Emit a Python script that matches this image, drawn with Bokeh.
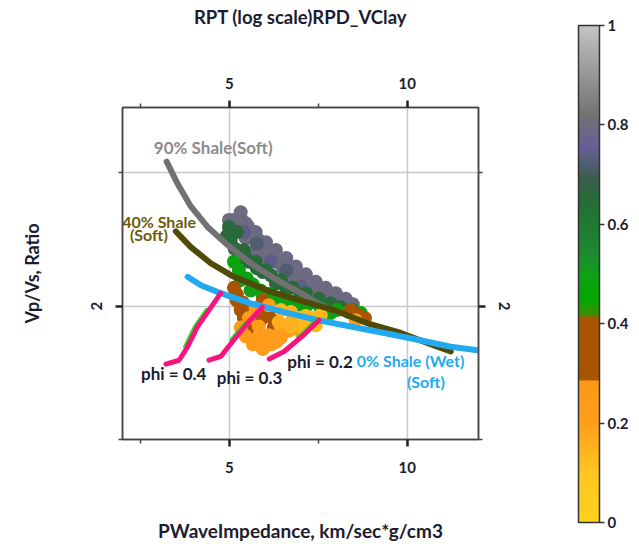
import math
from bokeh.plotting import figure
from bokeh.models import (Range1d, LinearAxis, LogAxis, FixedTicker, ColumnDataSource,
                          LinearColorMapper, ColorBar, CustomJSTickFormatter, Label)
from bokeh.core.properties import value
from bokeh.embed import file_html
from bokeh.resources import INLINE

FONT = "Lato"
DARK = "#1c1c30"

# ---------------- data ----------------
x_ticks = [5, 10]
x_minor = [2.5, 7.5]
y_ticks = [2]
y_minor = [1, 4]
y_grid = [2, 4]
cb_ticks = [0, 0.2, 0.4, 0.6, 0.8, 1]

shale90_x = [3.24, 3.54, 3.92, 4.39, 4.95, 5.60, 6.26, 7.01, 7.57, 8.13]
shale90_y = [4.24, 3.79, 3.36, 3.02, 2.75, 2.50, 2.31, 2.14, 2.01, 1.93]

shale40_x = [3.50, 3.92, 4.48, 5.13, 6.07, 7.01, 7.94, 8.88, 9.82, 10.75, 11.22]
shale40_y = [2.95, 2.72, 2.50, 2.33, 2.17, 2.06, 1.96, 1.83, 1.74, 1.63, 1.58]

shale0_x = [3.83, 4.20, 4.76, 5.60, 6.54, 7.48, 8.41, 9.35, 10.29, 11.22, 11.97]
shale0_y = [2.33, 2.23, 2.14, 2.03, 1.94, 1.86, 1.80, 1.74, 1.68, 1.62, 1.59]

phi40_x = [3.22, 3.59, 3.83, 4.11, 4.43, 4.76]
phi40_y = [1.48, 1.51, 1.62, 1.80, 1.96, 2.14]
phi30_x = [4.43, 4.76, 5.13, 5.51, 5.93]
phi30_y = [1.51, 1.54, 1.68, 1.83, 1.99]
phi20_x = [6.12, 6.54, 7.01, 7.52]
phi20_y = [1.52, 1.58, 1.70, 1.86]

# thin green edges visible beside the phi lines
g40_x = [3.76, 4.04, 4.36]
g40_y = [1.62, 1.80, 1.96]
g30_x = [5.06, 5.44]
g30_y = [1.68, 1.83]
g20_x = [6.94, 7.45]
g20_y = [1.70, 1.86]

# sample cloud: impedance, Vp/Vs and clay volume of each sample
cloud_x = [5.13, 5.32, 5.27, 5.52, 5.66, 5.46, 5.83, 5.94, 5.74, 6.11, 6.22, 6.03, 6.39, 6.50,
           6.73, 6.62, 6.90, 7.06, 7.29, 7.51, 7.74, 7.96, 8.19, 5.32, 4.99, 5.60, 5.94, 6.31, 6.78,
           5.46, 5.74, 6.03, 6.31, 6.60, 6.87, 7.15, 7.43, 7.71, 7.99, 8.27, 8.47,
           5.41, 5.77, 6.17, 6.60, 7.01,
           4.99, 5.04, 5.15, 5.27, 5.41, 5.55, 5.77, 5.94, 6.17, 6.45, 6.78, 7.15, 7.51, 7.85, 8.13, 8.47,
           5.21, 4.93, 5.18, 5.46, 5.74, 6.03, 6.31, 6.60, 7.01, 7.43, 7.79,
           5.13, 5.27, 5.49, 5.66, 5.88, 6.11, 6.33, 6.62, 6.90, 7.18, 7.57, 8.02, 8.36, 8.69,
           5.32, 5.60, 5.94, 6.45, 7.01, 7.85,
           5.13, 5.21, 5.32, 5.41, 5.60, 5.88, 6.17, 6.25, 5.69, 5.52, 5.94, 8.41, 8.61, 8.81,
           6.03, 5.74, 5.21, 5.38,
           5.32, 5.46, 5.66, 5.94, 6.17, 6.45, 6.67, 7.01, 5.83, 8.55, 5.74, 6.11,
           5.55, 5.83, 6.11, 6.45, 5.94, 6.31,
           6.45, 6.73, 6.95, 7.23, 7.43, 6.73, 7.01, 6.39, 7.57, 6.73, 7.15, 7.36]
cloud_y = [3.13, 3.16, 3.02, 3.03, 2.93, 2.85, 2.82, 2.72, 2.68, 2.64, 2.57, 2.52, 2.51, 2.44,
           2.37, 2.34, 2.31, 2.24, 2.21, 2.15, 2.12, 2.07, 2.03, 3.26, 3.13, 2.85, 2.66, 2.52, 2.34,
           3.08, 2.94, 2.79, 2.68, 2.57, 2.46, 2.36, 2.27, 2.20, 2.14, 2.08, 2.02,
           2.94, 2.77, 2.52, 2.41, 2.21,
           3.02, 2.82, 2.70, 2.59, 2.68, 2.52, 2.44, 2.39, 2.35, 2.29, 2.20, 2.14, 2.08, 2.03, 1.99, 1.96,
           2.94, 2.88, 2.52, 2.57, 2.52, 2.41, 2.25, 2.19, 2.12, 2.04, 1.98,
           2.52, 2.41, 2.31, 2.24, 2.17, 2.13, 2.09, 2.06, 2.03, 2.01, 1.98, 1.96, 1.94, 1.93,
           2.29, 2.17, 2.11, 2.04, 1.98, 1.93,
           2.20, 2.13, 1.96, 1.88, 1.85, 1.86, 1.89, 1.79, 1.79, 1.96, 2.06, 1.96, 1.91, 1.88,
           1.96, 1.94, 2.06, 2.04,
           1.79, 1.71, 1.64, 1.60, 1.64, 1.70, 1.76, 1.75, 1.71, 1.86, 1.98, 2.01,
           1.88, 1.80, 1.72, 1.77, 1.68, 1.66,
           1.96, 1.94, 1.88, 1.84, 1.81, 1.84, 1.80, 1.84, 1.91, 1.80, 1.90, 1.88]
cloud_v = [0.80] * 29 + [0.79] * 12 + [0.74, 0.72, 0.74, 0.72, 0.74] + \
          [0.66] * 15 + [0.62] + [0.66] * 11 + \
          [0.48] * 13 + [0.45] + [0.50] * 6 + \
          [0.36] * 14 + [0.35] * 4 + \
          [0.24, 0.24, 0.24, 0.22, 0.24, 0.24, 0.24, 0.22, 0.24, 0.24, 0.25, 0.20] + \
          [0.23] * 6 + \
          [0.14, 0.14, 0.12, 0.14, 0.14, 0.16, 0.14, 0.16, 0.14, 0.15, 0.13, 0.14]

label_90 = dict(x=[2.88], y=[4.56], text=["90% Shale(Soft)"])
label_40 = dict(x=[1.99, 2.21], y=[3.11, 2.90], text=["40% Shale", "(Soft)"])
label_0 = dict(x=[8.58, 9.99], y=[1.51, 1.35], text=["0% Shale (Wet)", "(Soft)"])
label_phi = dict(x=[2.52, 4.65, 6.63], y=[1.41, 1.38, 1.50], text=["phi = 0.4", "phi = 0.3", "phi = 0.2"])
cbar_title = "VolumeClay, fract"
cbar_title_pos = (14.37, 2.476)

# colour scale stops (style)
stops = [(0.00, "#FFD21E"), (0.10, "#FFC620"), (0.20, "#FF9E1A"), (0.286, "#FF9818"),
         (0.2861, "#A85400"), (0.413, "#A85400"), (0.4131, "#4A8A00"), (0.45, "#00A800"),
         (0.50, "#10A018"), (0.54, "#1E8A30"), (0.60, "#207A34"), (0.655, "#286A38"),
         (0.695, "#3D5C50"), (0.755, "#665E98"), (0.82, "#727272"), (1.00, "#C4C4C4")]


def hx(c):
    return [int(c[i:i + 2], 16) for i in (1, 3, 5)]


def build_palette(n=256):
    out = []
    for i in range(n):
        v = (i + 0.5) / n
        for (a, ca), (b, cb) in zip(stops[:-1], stops[1:]):
            if a <= v <= b:
                t = 0 if b == a else (v - a) / (b - a)
                A, B = hx(ca), hx(cb)
                out.append("#%02x%02x%02x" % tuple(int(round(A[k] + (B[k] - A[k]) * t)) for k in range(3)))
                break
    return out


palette = build_palette()
mapper = LinearColorMapper(palette=palette, low=0, high=1)

# ---------------- main figure ----------------
p = figure(width=639, height=544, x_range=Range1d(2, 12), y_range=Range1d(1, 5.62),
           y_axis_type="log", output_backend="svg", toolbar_location=None,
           min_border_left=122, min_border_right=161, min_border_top=107, min_border_bottom=105,
           background_fill_color="white", border_fill_color="white")
p.outline_line_color = "#444444"
p.outline_line_width = 1.5

bottom_axis = p.below[0]
left_axis = p.left[0]
top_axis = LinearAxis()
right_axis = LogAxis()
p.add_layout(top_axis, "above")
p.add_layout(right_axis, "right")

fmt = "return tick.toString();"
for ax in [bottom_axis, top_axis]:
    ax.ticker = FixedTicker(ticks=x_ticks, minor_ticks=x_minor)
    ax.formatter = CustomJSTickFormatter(code=fmt)
for ax in [left_axis, right_axis]:
    ax.ticker = FixedTicker(ticks=y_ticks, minor_ticks=y_minor)
    ax.formatter = CustomJSTickFormatter(code=fmt)
    ax.major_label_orientation = "vertical"

for ax in [bottom_axis, top_axis, left_axis, right_axis]:
    ax.axis_line_color = "#444444"
    ax.axis_line_width = 1.5
    ax.major_tick_out = 7
    ax.major_tick_in = 0
    ax.minor_tick_out = 4
    ax.minor_tick_in = 0
    ax.major_tick_line_color = "#222222"
    ax.major_tick_line_width = 2.5
    ax.minor_tick_line_color = "#444444"
    ax.minor_tick_line_width = 1.5
    ax.major_label_text_font = FONT
    ax.major_label_text_font_size = "15px"
    ax.major_label_text_font_style = "bold"
    ax.major_label_text_color = DARK
    ax.axis_label_text_font = FONT
    ax.axis_label_text_font_style = "bold"
    ax.axis_label_text_color = DARK

top_axis.major_label_standoff = 12
top_axis.axis_label = "RPT (log scale)RPD_VClay"
top_axis.axis_label_text_font_size = "18.5px"
top_axis.axis_label_standoff = 47

bottom_axis.major_label_standoff = 15
bottom_axis.axis_label = "PWaveImpedance, km/sec*g/cm3"
bottom_axis.axis_label_text_font_size = "19px"
bottom_axis.axis_label_standoff = 43

left_axis.major_label_standoff = 13
left_axis.axis_label = "Vp/Vs, Ratio"
left_axis.axis_label_text_font_size = "18px"
left_axis.axis_label_standoff = 46
right_axis.major_label_standoff = 13

p.xgrid.ticker = FixedTicker(ticks=x_ticks)
p.ygrid.ticker = FixedTicker(ticks=y_grid)
p.grid.grid_line_color = "#c8c8c8"
p.grid.grid_line_width = 1.5

src = ColumnDataSource(dict(x=cloud_x, y=cloud_y, v=cloud_v))
p.scatter("x", "y", source=src, size=14, line_color=None,
          fill_color={"field": "v", "transform": mapper})

p.line(shale90_x, shale90_y, line_width=6, line_color="#717171", line_cap="round")
p.line(shale40_x, shale40_y, line_width=6, line_color="#4f4a05", line_cap="round")
p.line(shale0_x, shale0_y, line_width=6, line_color="#22a9f0", line_cap="round")

for gx, gy in [(g40_x, g40_y), (g30_x, g30_y), (g20_x, g20_y)]:
    p.line(gx, gy, line_width=4, line_color="#22e022", line_cap="round")
for px_, py_ in [(phi40_x, phi40_y), (phi30_x, phi30_y), (phi20_x, phi20_y)]:
    p.line(px_, py_, line_width=5, line_color="#f7147f", line_cap="round")

common = dict(text_font=value(FONT), text_font_style="bold", text_align="left",
              text_baseline="middle")
p.text(x="x", y="y", text="text", source=ColumnDataSource(label_90),
       text_color="#8c8c8c", text_font_size="17px", **common)
p.text(x="x", y="y", text="text", source=ColumnDataSource(label_40),
       text_color="#6a5c08", text_font_size="16px", **common)
p.text(x="x", y="y", text="text", source=ColumnDataSource(label_0),
       text_color="#22aaf0", text_font_size="16px", **common)
p.text(x="x", y="y", text="text", source=ColumnDataSource(label_phi),
       text_color=DARK, text_font_size="17px", **common)

# ---------------- colour bar ----------------
cb = ColorBar(color_mapper=mapper, orientation="vertical", location=(456, -83),
              width=21, height=497, padding=0, margin=0,
              ticker=FixedTicker(ticks=cb_ticks),
              formatter=CustomJSTickFormatter(code=fmt),
              major_label_text_font=FONT, major_label_text_font_size="15px",
              major_label_text_font_style="bold", major_label_text_color=DARK,
              major_tick_out=5, major_tick_in=0, major_tick_line_color="#333333",
              major_tick_line_width=1.5, minor_tick_line_color=None,
              bar_line_color="#333333", bar_line_width=1.5,
              border_line_color=None, background_fill_color=None, label_standoff=3)
p.add_layout(cb, "center")

p.add_layout(Label(x=cbar_title_pos[0], y=cbar_title_pos[1], text=cbar_title, angle=math.pi / 2,
                   text_align="center", text_baseline="middle", text_font=FONT,
                   text_font_size="19px", text_font_style="bold", text_color=DARK))

open("out.html", "w").write(file_html(p, INLINE))
